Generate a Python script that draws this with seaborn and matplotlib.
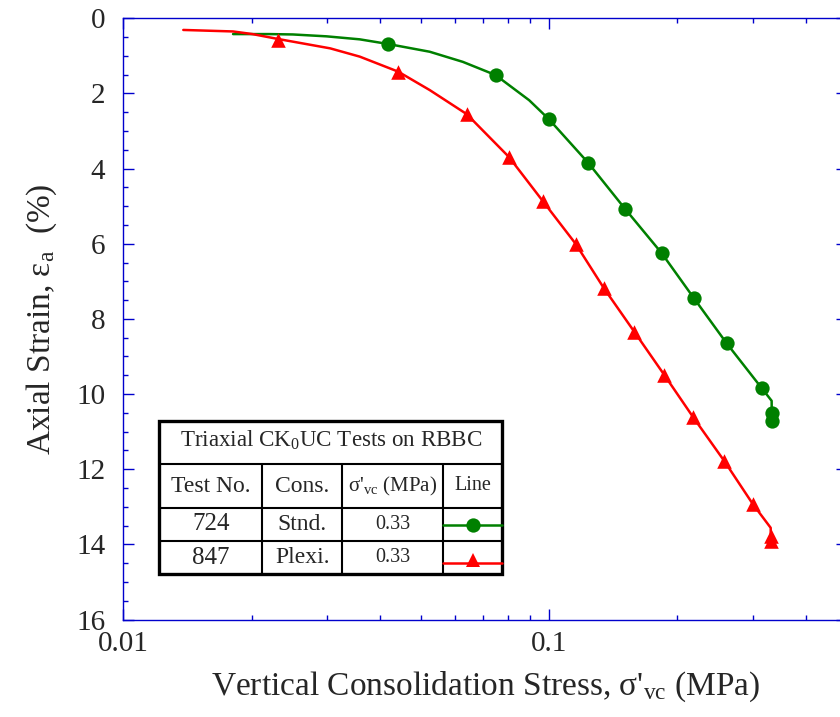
import numpy as np
import pandas as pd
import seaborn as sns
import matplotlib.pyplot as plt
from matplotlib.ticker import FixedLocator, FixedFormatter, LogLocator, MultipleLocator, NullFormatter
from matplotlib.patches import Rectangle
from matplotlib.lines import Line2D

# Test 724 (Stnd.) - line and marker points
stnd_x = [0.0181, 0.022, 0.025, 0.030, 0.0359, 0.0419, 0.0524, 0.0627, 0.0748, 0.0897,
          0.0998, 0.1235, 0.1506, 0.1836, 0.2186, 0.2609, 0.3152, 0.3327, 0.333]
stnd_y = [0.42, 0.42, 0.43, 0.48, 0.56, 0.685, 0.89, 1.16, 1.51, 2.18,
          2.685, 3.85, 5.07, 6.25, 7.45, 8.65, 9.84, 10.18, 10.72]
stnd_mx = [0.0419, 0.0748, 0.0998, 0.1235, 0.1506, 0.1836, 0.2186, 0.2609, 0.3152, 0.333, 0.333]
stnd_my = [0.685, 1.51, 2.685, 3.85, 5.07, 6.25, 7.45, 8.65, 9.84, 10.5, 10.72]

# Test 847 (Plexi.)
plexi_x = [0.01383, 0.0181, 0.0201, 0.02307, 0.0306, 0.0359, 0.0442, 0.0524, 0.064, 0.0804,
           0.0965, 0.1153, 0.1343, 0.1583, 0.1862, 0.2178, 0.2575, 0.3002, 0.331, 0.331]
plexi_y = [0.31, 0.35, 0.42, 0.55, 0.80, 1.02, 1.42, 1.91, 2.55, 3.69,
           4.86, 6.00, 7.18, 8.34, 9.49, 10.62, 11.78, 12.92, 13.56, 13.96]
plexi_mx = [0.02307, 0.0442, 0.064, 0.0804, 0.0965, 0.1153, 0.1343, 0.1583, 0.1862,
            0.2178, 0.2575, 0.3002, 0.331, 0.331]
plexi_my = [0.58, 1.42, 2.55, 3.69, 4.86, 6.0, 7.18, 8.34, 9.49,
            10.62, 11.78, 12.92, 13.78, 13.92]

x_ticks = [0.01, 0.1]
x_tick_labels = ['0.01', '0.1']
y_ticks = list(range(0, 17, 2))

table_title = r'Triaxial CK$_{\mathrm{0}}$UC Tests on RBBC'
table_header = ['Test No.', 'Cons.', r"σ'$_{\mathrm{vc}}$ (MPa)", 'Line']
table_rows = [['724', 'Stnd.', '0.33'], ['847', 'Plexi.', '0.33']]

GREEN = '#008000'
RED = '#ff0000'
BLUE = '#0000cc'

sns.set_style('ticks')
plt.rcParams['font.family'] = ['Liberation Serif', 'DejaVu Serif']
plt.rcParams['mathtext.fontset'] = 'custom'
plt.rcParams['mathtext.rm'] = 'Liberation Serif'
plt.rcParams['mathtext.it'] = 'Liberation Serif:italic'

W, H = 840, 717
fig = plt.figure(figsize=(W / 100, H / 100), dpi=100)
ax = fig.add_axes([123.3 / W, 1 - 619.5 / H, (847 - 123.3) / W, (619.5 - 18.3) / H])
ax.set_xscale('log')

stnd = pd.DataFrame({'x': stnd_x, 'y': stnd_y})
plexi = pd.DataFrame({'x': plexi_x, 'y': plexi_y})
sns.lineplot(data=stnd, x='x', y='y', sort=False, estimator=None, color=GREEN, lw=1.8, ax=ax)
sns.lineplot(data=plexi, x='x', y='y', sort=False, estimator=None, color=RED, lw=1.8, ax=ax)
sns.scatterplot(x=stnd_mx, y=stnd_my, marker='o', s=106, color=GREEN, linewidth=0, ax=ax, zorder=3)
sns.scatterplot(x=plexi_mx, y=plexi_my, marker='^', s=110, color=RED, linewidth=0, ax=ax, zorder=3)

ax.set_xlim(0.01, 0.5)
ax.set_ylim(16, 0)
ax.xaxis.set_major_locator(FixedLocator(x_ticks))
ax.xaxis.set_major_formatter(FixedFormatter(x_tick_labels))
ax.xaxis.set_minor_locator(LogLocator(base=10, subs=np.arange(2, 10)))
ax.xaxis.set_minor_formatter(NullFormatter())
ax.set_yticks(y_ticks)
ax.yaxis.set_minor_locator(MultipleLocator(0.5))

for s in ax.spines.values():
    s.set_color(BLUE)
    s.set_linewidth(1.0)
ax.tick_params(which='both', direction='in', top=True, right=True, color=BLUE, width=1)
ax.tick_params(which='major', length=8, labelsize=21)
ax.tick_params(axis='y', which='major', pad=13)
ax.tick_params(axis='x', which='major', pad=8)
ax.tick_params(which='minor', length=3.8)

ax.set_xlabel(r"Vertical Consolidation Stress, σ'$_{\mathrm{vc}}$ (MPa)", fontsize=24, labelpad=9)
ax.set_ylabel(r'Axial Strain, ε$_{\mathrm{a}}$  (%)', fontsize=24, labelpad=12)


def fp(x, y):
    return (x / W, 1 - y / H)


# table box
cols = [159.3, 262.3, 342.3, 443.3, 502.3]
rows = [421, 464.3, 507.7, 541, 574.3]
x0, y0 = fp(cols[0], rows[-1])
fig.add_artist(Rectangle((x0, y0), (cols[-1] - cols[0]) / W, (rows[-1] - rows[0]) / H,
                         transform=fig.transFigure, facecolor='white', edgecolor='black',
                         linewidth=2.4, zorder=5))
for r in rows[1:-1]:
    a, b = fp(cols[0], r), fp(cols[-1], r)
    fig.add_artist(Line2D([a[0], b[0]], [a[1], b[1]], color='black', lw=1.5,
                          transform=fig.transFigure, zorder=6))
for c in cols[1:-1]:
    a, b = fp(c, rows[1]), fp(c, rows[-1])
    fig.add_artist(Line2D([a[0], b[0]], [a[1], b[1]], color='black', lw=1.5,
                          transform=fig.transFigure, zorder=6))

fig.text(*fp((cols[0] + cols[-1]) / 2, 440), table_title, fontsize=16.6,
         ha='center', va='center', zorder=7)
hdr_sizes = [17, 17, 15, 14.5]
for i, (txt, fs) in enumerate(zip(table_header, hdr_sizes)):
    fig.text(*fp((cols[i] + cols[i + 1]) / 2, 486), txt, fontsize=fs,
             ha='center', va='center', zorder=7)
row_sizes = [18, 17, 14.5]
for j, row in enumerate(table_rows):
    yc = (rows[2 + j] + rows[3 + j]) / 2
    for i, (txt, fs) in enumerate(zip(row, row_sizes)):
        fig.text(*fp((cols[i] + cols[i + 1]) / 2, yc), txt, fontsize=fs,
                 ha='center', va='center', zorder=7)

for yl, col, mk, ms in [(525, GREEN, 'o', 10.3), (563, RED, '^', 10.5)]:
    a, b = fp(cols[3], yl), fp(cols[4], yl)
    fig.add_artist(Line2D([a[0], b[0]], [a[1], b[1]], color=col, lw=1.8,
                          transform=fig.transFigure, zorder=6))
    m = fp((cols[3] + cols[4]) / 2, yl - (3 if mk == '^' else 0))
    fig.add_artist(Line2D([m[0]], [m[1]], color=col, marker=mk, ms=ms, mew=0,
                          transform=fig.transFigure, zorder=7))

fig.savefig('out.png', dpi=100)
